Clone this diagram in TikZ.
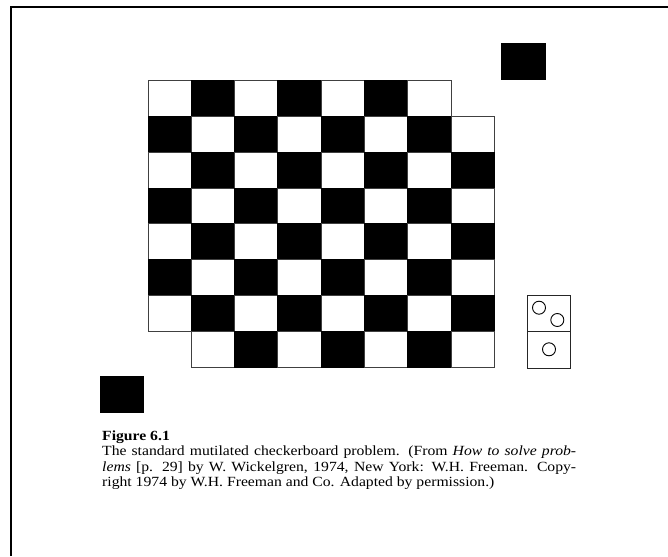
\documentclass[tikz,border=0pt]{standalone}
\usepackage{fontspec}
\setmainfont[FakeStretch=1.12]{Liberation Serif}
\begin{document}
\begin{tikzpicture}[x=1pt,y=-1pt,
  frame/.style={line width=2pt,black},
  whitecell/.style={draw=black!75,line width=0.9pt,fill=white},
  blackcell/.style={draw=black,line width=0.9pt,fill=black},
  domino/.style={draw=black!85,line width=0.9pt},
  pip/.style={draw=black,line width=0.9pt},
  captext/.style={anchor=base west,inner sep=0pt,font=\fontsize{14}{15.5}\selectfont}]
\useasboundingbox (0,0) rectangle (668,556);
% frame
\draw[frame] (11,556) -- (11,7) -- (668,7);
% board
\foreach \r in {0,...,7}{
  \foreach \c in {0,...,7}{
    \pgfmathtruncatemacro\skipit{(\r==0)*(\c==7)+(\r==7)*(\c==0)}
    \ifnum\skipit=0
      \pgfmathtruncatemacro\parity{mod(\r+\c,2)}
      \ifnum\parity=1
        \path[blackcell] (148+\c*43.3,80.7+\r*35.8) rectangle ++(43.3,35.8);
      \else
        \path[whitecell] (148+\c*43.3,80.7+\r*35.8) rectangle ++(43.3,35.8);
      \fi
    \fi
  }
}
% removed squares
\path[blackcell] (501,43) rectangle (545,79);
\path[blackcell] (100,376) rectangle (143,412);
% domino
\draw[domino] (527,295) rectangle (570,368);
\draw[domino] (527,331.7) -- (570,331.7);
\draw[pip] (539,307.7) circle (6.5);
\draw[pip] (557.3,320) circle (6.5);
\draw[pip] (549,349.3) circle (6.5);
% caption
\node[captext] (fig) at (102,440) {\textbf{Figure 6.1}};
\node[captext] (l1) at (102,455.5) {\makebox[474pt][s]{The standard mutilated checkerboard problem. (From \textit{How to solve prob-}}};
\node[captext] (l2) at (102,471) {\makebox[474pt][s]{\textit{lems} [p. 29] by W. Wickelgren, 1974, New York: W.H. Freeman. Copy-}};
\node[captext] (l3) at (102,486.5) {right 1974 by W.H. Freeman and Co. Adapted by permission.)};
\end{tikzpicture}
\end{document}
